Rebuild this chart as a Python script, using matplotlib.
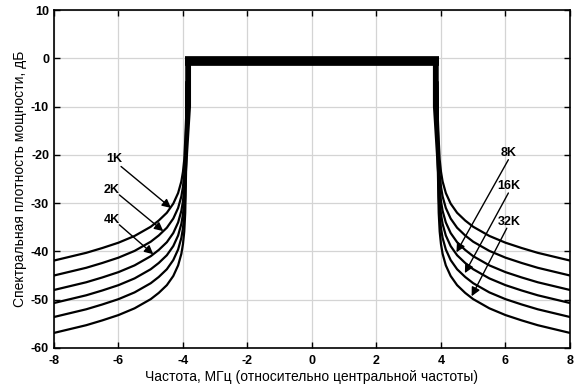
import matplotlib.pyplot as plt

plt.rcParams['font.family'] = ['Liberation Sans', 'DejaVu Sans']
plt.rcParams['axes.unicode_minus'] = False

# frequency points on the left slope (MHz); right slope is the mirror image
freq_left = [-8, -7.5, -7, -6.5, -6, -5.5, -5, -4.75, -4.5, -4.3, -4.15, -4.05, -4.0, -3.96, -3.93, -3.9, -3.88]

modes = ['1K', '2K', '4K', '8K', '16K', '32K']
psd_1k = [-41.9, -41.1, -40.3, -39.3, -38.2, -36.8, -34.9, -33.6, -32.0, -30.1, -27.9, -25.5, -23.5, -21.0, -17.0, -12, -5]
psd_2k = [-45.0, -44.2, -43.4, -42.4, -41.3, -39.9, -38.0, -36.7, -35.1, -33.2, -31.0, -28.6, -26.6, -24.1, -20.1, -14, -5]
psd_4k = [-48.0, -47.2, -46.4, -45.4, -44.3, -42.9, -41.0, -39.7, -38.1, -36.2, -34.0, -31.6, -29.6, -27.1, -23.1, -16, -5]
psd_8k = [-50.7, -49.9, -49.1, -48.1, -47.0, -45.6, -43.7, -42.4, -40.8, -38.9, -36.7, -34.3, -32.3, -29.8, -25.8, -18, -5]
psd_16k = [-53.6, -52.8, -52.0, -51.0, -49.9, -48.5, -46.6, -45.3, -43.7, -41.8, -39.6, -37.2, -35.2, -32.7, -28.7, -20, -5]
psd_32k = [-56.9, -56.1, -55.3, -54.3, -53.2, -51.8, -49.9, -48.6, -47.0, -45.1, -42.9, -40.5, -38.5, -35.9, -32.0, -22, -5]
curves = [psd_1k, psd_2k, psd_4k, psd_8k, psd_16k, psd_32k]

# in-band spectrum (rectangle): outer / inner edge of the thick side walls
edge_outer = 3.93
edge_inner = 3.75
edge_foot = 3.88
band_level = -0.55
wall_knee = -10
wall_bottom = -24

# label positions (text centre, arrow start, arrow tip) in data coords
label_text = [(-6.14, -20.9), (-6.21, -27.2), (-6.21, -33.5), (6.11, -19.6), (6.11, -26.4), (6.11, -33.9)]
arrow_start = [(-5.92, -22.4), (-5.97, -28.3), (-5.97, -34.5), (6.09, -21.0), (6.09, -27.9), (6.04, -35.2)]
arrow_tip = [(-4.37, -31.0), (-4.61, -35.8), (-4.92, -40.6), (4.48, -40.2), (4.74, -44.5), (4.95, -49.3)]

fig = plt.figure(figsize=(5.74, 3.9), dpi=100)
ax = fig.add_axes([0.094, 0.108, 0.899, 0.866])

freq_right = [-f for f in freq_left]
for vals in curves:
    ax.plot(freq_left, vals, color='black', lw=1.6)
    ax.plot(freq_right, vals, color='black', lw=1.6)

for s in (-1, 1):
    ax.fill([s * edge_outer, s * edge_inner, s * edge_inner, s * edge_foot, s * edge_outer],
            [band_level, band_level, wall_knee, wall_bottom, wall_bottom],
            color='black', lw=0)
ax.plot([-edge_outer, edge_outer], [band_level, band_level], color='black', lw=7, solid_capstyle='butt')

for name, txt, st, tip in zip(modes, label_text, arrow_start, arrow_tip):
    ax.text(txt[0], txt[1], name, ha='center', va='center', fontsize=9, fontweight='bold')
    ax.annotate('', xy=tip, xytext=st,
                arrowprops=dict(arrowstyle='-|>', color='black', lw=1.0, mutation_scale=13,
                                shrinkA=0, shrinkB=0))

ax.set_xlim(-8, 8)
ax.set_ylim(-60, 10)
ax.set_xticks(range(-8, 9, 2))
ax.set_yticks(range(-60, 11, 10))
ax.grid(True, color='#d4d4d4', lw=0.9)
ax.set_axisbelow(True)
ax.tick_params(direction='in', top=True, right=True, length=4, width=1, labelsize=9)
ax.tick_params(axis='x', pad=5)
for lab in ax.get_xticklabels() + ax.get_yticklabels():
    lab.set_fontweight('bold')
for sp in ax.spines.values():
    sp.set_linewidth(1.2)

ax.set_xlabel('Частота, МГц (относительно центральной частоты)', fontsize=10, labelpad=2)
ax.set_ylabel('Спектральная плотность мощности, дБ', fontsize=10, labelpad=3)

fig.savefig('out.png', dpi=100)
